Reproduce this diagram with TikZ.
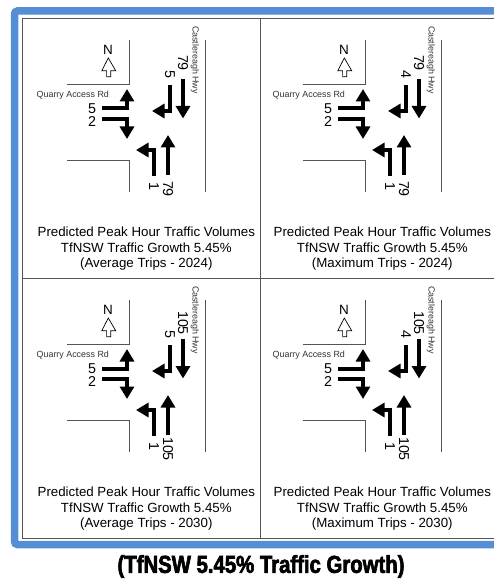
\documentclass[tikz,border=0pt]{standalone}
\usepackage{fontspec}
\usepackage{xcolor}
\setmainfont{Liberation Sans}
\newfontfamily\titlefont[BoldFeatures={FakeStretch=0.83,FakeBold=2.5}]{Liberation Sans}
\usepackage{tikz}
\usetikzlibrary{arrows.meta,calc}
\definecolor{frameblue}{HTML}{558ED5}
\definecolor{gridgray}{HTML}{555555}

\begin{document}
\begin{tikzpicture}[
    x=1pt, y=-1pt,
    frameline/.style={frameblue, line width=7.5pt, rounded corners=3pt},
    grid/.style={gridgray, line width=0.9pt},
    road/.style={gridgray, line width=0.8pt},
    flow/.style={-{Triangle[length=12.5pt,width=14pt]}, line width=4pt},
    num/.style={font=\fontsize{14.3}{14}\selectfont, inner sep=0pt},
    roadname/.style={font=\fontsize{8.9}{9}\selectfont, text=black!80, inner sep=0pt},
    caption/.style={font=\fontsize{13.3}{15.7}\selectfont, align=center, inner sep=0pt},
    north/.style={draw, line width=0.7pt, fill=white}
]
\useasboundingbox (0,0) rectangle (494,580);

\draw[frameline] (500,11) -- (14.5,11) -- (14.5,544.5) -- (500,544.5);
\draw[grid] (500,18.5) -- (22,18.5) -- (22,538.5) -- (500,538.5);
\draw[grid] (22,278) -- (500,278);
\draw[grid] (260,18.5) -- (260,538.5);

\foreach \p/\dx/\dy/\thr/\rgt/\trip/\yr in {a/0/0/79/5/Average/2024, b/236/0/79/4/Maximum/2024, c/0/260/105/5/Average/2030, d/236/260/105/4/Maximum/2030} {
\begin{scope}[shift={(\dx,\dy)}]
  \draw[road] (129,40) -- (129,84) -- (67,84);
  \draw[road] (67,160) -- (129,160) -- (129,192);
  \draw[road] (205,40) -- (205,192);

  \node[num, font=\fontsize{13.5}{14}\selectfont] (north\p) at (108,50) {N};
  \draw[north] (108.3,58) -- (115.7,70.7) -- (110.8,70.7) -- (110.8,76.7) -- (106.6,76.7) -- (106.6,70.7) -- (101.8,70.7) -- cycle;

  \node[roadname] (quarry\p) at (72.8,95) {Quarry Access Rd};
  \node[roadname, rotate=-90] (castle\p) at (194.8,60) {Castlereagh Hwy};

  \node[num] (wleft\p) at (92,108.5) {5};
  \node[num] (wright\p) at (92,122) {2};
  \node[num, rotate=-90] (nthru\p) at (183,63) {\thr};
  \node[num, rotate=-90] (nturn\p) at (170,74) {\rgt};
  \node[num, rotate=-90] (sturn\p) at (154,186) {1};
  \node[num, rotate=-90] (sthru\p) at (168,189) {\thr};

  \coordinate (wlefttip\p) at (127,89);
  \coordinate (wrighttip\p) at (127,139);
  \coordinate (nthrutip\p) at (183,118.5);
  \coordinate (nturntip\p) at (152,111);
  \coordinate (sturntip\p) at (136,150);
  \coordinate (sthrutip\p) at (168,135);

  \draw[flow, shorten <=10pt] (wleft\p.center) -| (wlefttip\p);
  \draw[flow, shorten <=10pt] ([yshift=3pt]wright\p.center) -| (wrighttip\p);
  \draw[flow, shorten <=16pt] (nthru\p.center) -- (nthrutip\p);
  \draw[flow, shorten <=11pt] (nturn\p.center) |- (nturntip\p);
  \draw[flow, shorten <=10pt] (sturn\p.center) |- (sturntip\p);
  \draw[flow, shorten <=14pt] (sthru\p.center) -- (sthrutip\p);

  \node[caption] (caption\p) at (146.3,248.7) {Predicted Peak Hour Traffic Volumes\\TfNSW Traffic Growth 5.45\%\\(\trip{} Trips - \yr)};
\end{scope}
}

\node[font=\titlefont\bfseries\fontsize{24.5}{25}\selectfont, inner sep=0pt] (title) at (261,566.5) {(TfNSW 5.45\% Traffic Growth)};

\end{tikzpicture}
\end{document}
